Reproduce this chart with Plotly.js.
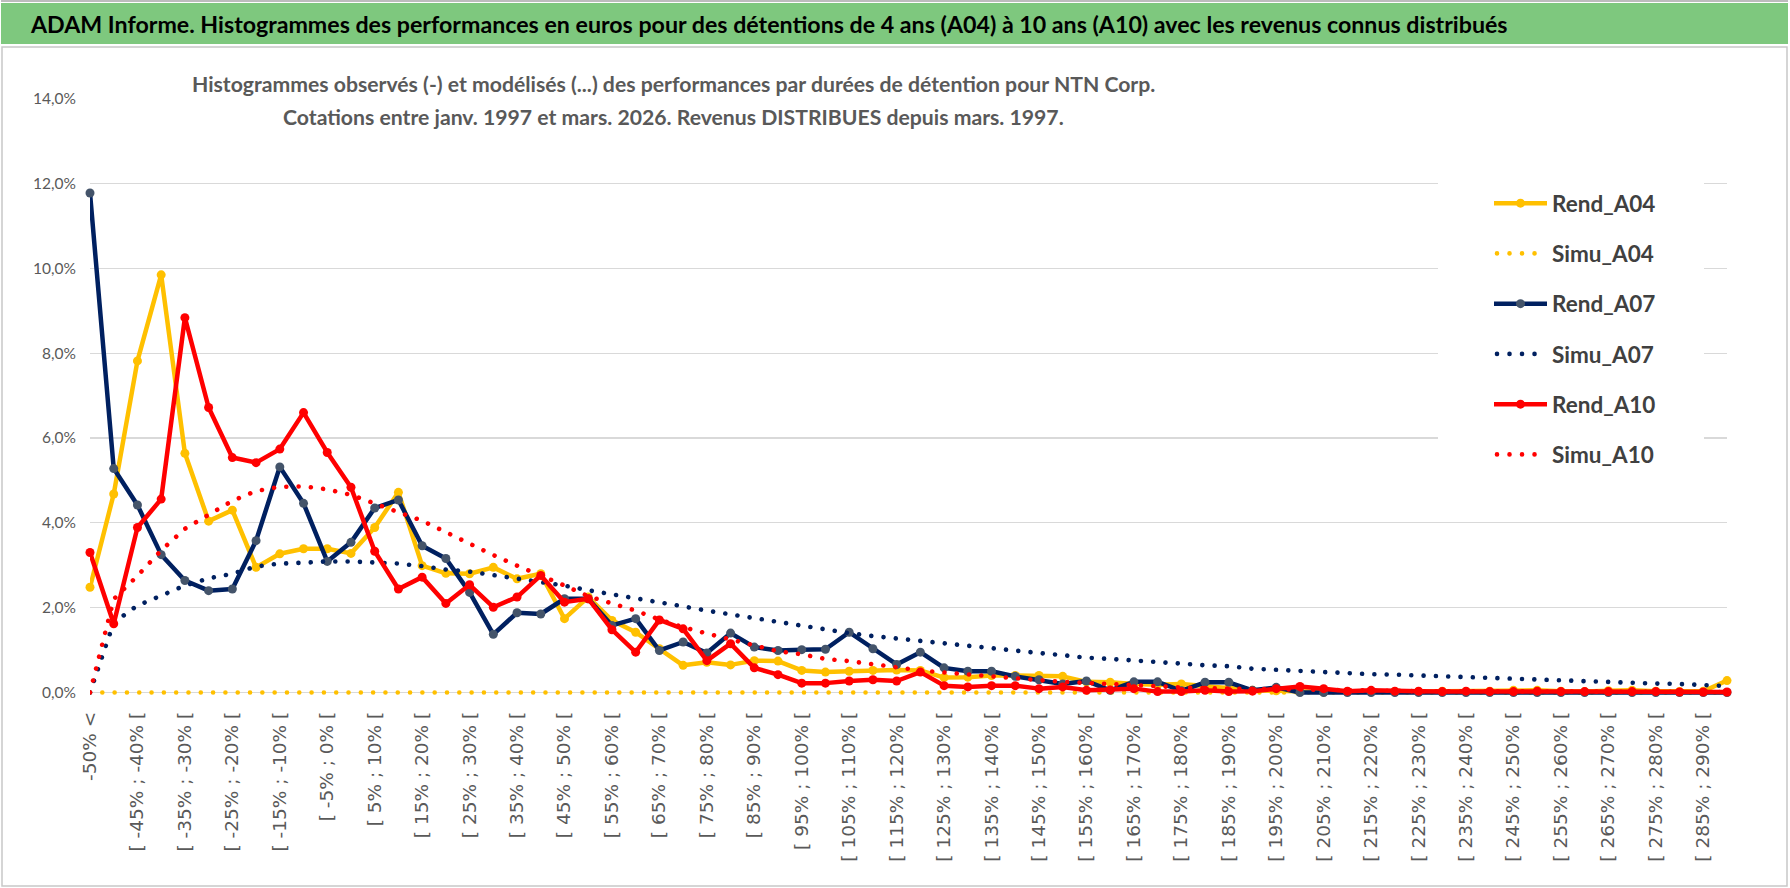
<!DOCTYPE html>
<html>
<head>
<meta charset="utf-8">
<script src="https://cdn.plot.ly/plotly-3.0.1.min.js"></script>
<style>
  html, body { margin:0; padding:0; background:#ffffff; }
  #chart { width:1790px; height:888px; }
</style>
</head>
<body>
<div id="chart"></div>
<script>
// ---------- DATA ----------
const categories = [
  "-50% <", "[ -50% ; -45% [", "[ -45% ; -40% [", "[ -40% ; -35% [", "[ -35% ; -30% [",
  "[ -30% ; -25% [", "[ -25% ; -20% [", "[ -20% ; -15% [", "[ -15% ; -10% [", "[ -10% ; -5% [",
  "[ -5% ; 0% [", "[ 0% ; 5% [", "[ 5% ; 10% [", "[ 10% ; 15% [", "[ 15% ; 20% [",
  "[ 20% ; 25% [", "[ 25% ; 30% [", "[ 30% ; 35% [", "[ 35% ; 40% [", "[ 40% ; 45% [",
  "[ 45% ; 50% [", "[ 50% ; 55% [", "[ 55% ; 60% [", "[ 60% ; 65% [", "[ 65% ; 70% [",
  "[ 70% ; 75% [", "[ 75% ; 80% [", "[ 80% ; 85% [", "[ 85% ; 90% [", "[ 90% ; 95% [",
  "[ 95% ; 100% [", "[ 100% ; 105% [", "[ 105% ; 110% [", "[ 110% ; 115% [", "[ 115% ; 120% [",
  "[ 120% ; 125% [", "[ 125% ; 130% [", "[ 130% ; 135% [", "[ 135% ; 140% [", "[ 140% ; 145% [",
  "[ 145% ; 150% [", "[ 150% ; 155% [", "[ 155% ; 160% [", "[ 160% ; 165% [", "[ 165% ; 170% [",
  "[ 170% ; 175% [", "[ 175% ; 180% [", "[ 180% ; 185% [", "[ 185% ; 190% [", "[ 190% ; 195% [",
  "[ 195% ; 200% [", "[ 200% ; 205% [", "[ 205% ; 210% [", "[ 210% ; 215% [", "[ 215% ; 220% [",
  "[ 220% ; 225% [", "[ 225% ; 230% [", "[ 230% ; 235% [", "[ 235% ; 240% [", "[ 240% ; 245% [",
  "[ 245% ; 250% [", "[ 250% ; 255% [", "[ 255% ; 260% [", "[ 260% ; 265% [", "[ 265% ; 270% [",
  "[ 270% ; 275% [", "[ 275% ; 280% [", "[ 280% ; 285% [", "[ 285% ; 290% [", "[ 290% ; 295% ["
];

// values in %
const rendA04 = [
  2.48, 4.68, 7.82, 9.85, 5.64, 4.04, 4.30, 2.95, 3.27, 3.39,
  3.39, 3.28, 3.89, 4.72, 2.99, 2.81, 2.80, 2.95, 2.68, 2.80,
  1.74, 2.25, 1.70, 1.42, 1.03, 0.64, 0.71, 0.65, 0.75, 0.74,
  0.52, 0.48, 0.50, 0.52, 0.53, 0.52, 0.35, 0.36, 0.40, 0.40,
  0.40, 0.38, 0.25, 0.24, 0.20, 0.18, 0.20, 0.15, 0.12, 0.05,
  0.04, 0.02, 0.01, 0.02, 0.03, 0.02, 0.02, 0.03, 0.02, 0.03,
  0.05, 0.05, 0.03, 0.02, 0.04, 0.05, 0.03, 0.02, 0.03, 0.28
];
const simuA04 = [
  0, 0, 0, 0, 0, 0, 0, 0, 0, 0,
  0, 0, 0, 0, 0, 0, 0, 0, 0, 0,
  0, 0, 0, 0, 0, 0, 0, 0, 0, 0,
  0, 0, 0, 0, 0, 0, 0, 0, 0, 0,
  0, 0, 0, 0, 0, 0, 0, 0, 0, 0,
  0, 0, 0, 0, 0, 0, 0, 0, 0, 0,
  0, 0, 0, 0, 0, 0, 0, 0, 0, 0
];
const rendA07 = [
  11.78, 5.28, 4.42, 3.25, 2.64, 2.40, 2.44, 3.58, 5.32, 4.46,
  3.09, 3.54, 4.35, 4.54, 3.46, 3.16, 2.36, 1.37, 1.88, 1.85,
  2.21, 2.21, 1.58, 1.74, 0.99, 1.19, 0.93, 1.40, 1.07, 0.99,
  1.01, 1.02, 1.42, 1.03, 0.66, 0.95, 0.58, 0.50, 0.50, 0.38,
  0.30, 0.20, 0.27, 0.05, 0.25, 0.25, 0.04, 0.24, 0.24, 0.05,
  0.12, 0, 0, 0, 0, 0, 0, 0, 0, 0,
  0, 0, 0, 0, 0, 0, 0, 0, 0, 0
];
const simuA07 = [
  0, 1.65, 2.05, 2.28, 2.52, 2.69, 2.80, 2.97, 3.04, 3.06,
  3.09, 3.09, 3.06, 3.04, 2.98, 2.90, 2.85, 2.77, 2.68, 2.60,
  2.52, 2.41, 2.32, 2.22, 2.12, 2.03, 1.93, 1.84, 1.75, 1.68,
  1.59, 1.48, 1.40, 1.33, 1.27, 1.21, 1.15, 1.10, 1.03, 0.98,
  0.93, 0.88, 0.82, 0.79, 0.76, 0.72, 0.68, 0.64, 0.62, 0.56,
  0.53, 0.52, 0.49, 0.46, 0.43, 0.42, 0.40, 0.37, 0.35, 0.33,
  0.32, 0.29, 0.28, 0.26, 0.24, 0.23, 0.21, 0.20, 0.18, 0.15
];
const rendA10 = [
  3.30, 1.62, 3.89, 4.56, 8.84, 6.72, 5.54, 5.42, 5.74, 6.60,
  5.66, 4.84, 3.33, 2.44, 2.72, 2.10, 2.54, 2.01, 2.25, 2.76,
  2.13, 2.21, 1.48, 0.95, 1.71, 1.50, 0.75, 1.15, 0.58, 0.42,
  0.22, 0.22, 0.27, 0.30, 0.27, 0.48, 0.16, 0.13, 0.16, 0.16,
  0.09, 0.13, 0.05, 0.06, 0.09, 0.02, 0.02, 0.05, 0.02, 0.03,
  0.09, 0.14, 0.09, 0.03, 0.05, 0.03, 0.03, 0.02, 0.03, 0.02,
  0.02, 0.03, 0.02, 0.02, 0.02, 0.02, 0.02, 0.01, 0.01, 0.01
];
const simuA10 = [
  0, 2.20, 2.75, 3.35, 3.86, 4.20, 4.52, 4.75, 4.85, 4.86,
  4.79, 4.66, 4.46, 4.27, 4.05, 3.78, 3.50, 3.24, 2.99, 2.76,
  2.52, 2.27, 2.09, 1.93, 1.72, 1.54, 1.39, 1.25, 1.11, 0.97,
  0.90, 0.79, 0.74, 0.66, 0.59, 0.52, 0.47, 0.42, 0.38, 0.33,
  0.29, 0.25, 0.22, 0.19, 0.16, 0.14, 0.12, 0.10, 0.09, 0.08,
  0.07, 0.06, 0.05, 0.05, 0.04, 0.04, 0.03, 0.03, 0.03, 0.02,
  0.02, 0.02, 0.02, 0.01, 0.01, 0.01, 0.01, 0.01, 0.01, 0.01
];
const yTickVals = [0, 2, 4, 6, 8, 10, 12, 14];

const mainTitle = "ADAM Informe. Histogrammes des performances en euros pour des détentions de 4 ans (A04) à 10 ans (A10) avec les revenus connus distribués";
const subTitle1 = "Histogrammes observés (-) et modélisés (...) des performances par durées de détention pour NTN Corp.";
const subTitle2 = "Cotations entre janv. 1997 et mars. 2026. Revenus DISTRIBUES depuis mars. 1997.";

// ---------- LAYOUT HELPERS ----------
const W = 1790, H = 888;
const M = {l: 90, r: 63, t: 98, b: 193, pad: 0};
const PW = W - M.l - M.r, PH = H - M.t - M.b;
const px = p => (p - M.l) / PW;
const py = p => (H - M.b - p) / PH;

const SANS = 'Lato, "DejaVu Sans Condensed", sans-serif';
const GRAY = '#595959';
const GRID = '#D9D9D9';

const pct = a => a.map(v => v / 100);

const YEL = '#FFC000', NAVY = '#002060', NAVYMK = '#44546A', RED = '#FF0000';

function rend(name, vals, color, mcolor) {
  return {
    type: 'scatter', mode: 'lines+markers', name: name, legendgroup: name,
    x: categories, y: pct(vals),
    line: {color: color, width: 4.5},
    marker: {color: mcolor, size: 9, line: {width: 0}},
    cliponaxis: false, hoverinfo: 'skip'
  };
}
function simu(name, vals, color) {
  return {
    type: 'scatter', mode: 'lines', name: name, legendgroup: name,
    x: categories, y: pct(vals),
    line: {color: color, width: 4.6, dash: 'dot'},
    cliponaxis: false, hoverinfo: 'skip'
  };
}

const traces = [
  rend('Rend_A04', rendA04, YEL, YEL),
  simu('Simu_A04', simuA04, YEL),
  rend('Rend_A07', rendA07, NAVY, NAVYMK),
  simu('Simu_A07', simuA07, NAVY),
  rend('Rend_A10', rendA10, RED, RED),
  simu('Simu_A10', simuA10, RED)
];

const gridIdx = categories.map((c, i) => i).filter(i => i % 4 === 0);

const layout = {
  width: W, height: H,
  margin: M,
  paper_bgcolor: '#ffffff', plot_bgcolor: '#ffffff',
  separators: ', ',
  showlegend: true,
  font: {family: SANS, color: GRAY, size: 16},
  xaxis: {
    type: 'category',
    range: [0, categories.length - 1],
    tickmode: 'array',
    tickvals: categories.filter((c, i) => i % 2 === 0),
    ticktext: categories.filter((c, i) => i % 2 === 0),
    tickangle: -90,
    tickfont: {family: '"DejaVu Sans", sans-serif', size: 18.5, color: GRAY},
    showgrid: false, zeroline: false, showline: false,
    ticks: '', ticklabelstandoff: 12,
    fixedrange: true
  },
  xaxis2: {
    overlaying: 'x', anchor: 'y', side: 'bottom',
    type: 'linear', range: [0, categories.length - 1],
    tickmode: 'array', tickvals: gridIdx,
    showticklabels: false,
    showgrid: true, gridcolor: GRID, gridwidth: 1.3,
    ticks: 'outside', ticklen: 6, tickcolor: GRID, tickwidth: 1.3,
    zeroline: false, showline: false, fixedrange: true
  },
  yaxis: {
    range: [-0.0006, 0.1402],
    tickmode: 'array', tickvals: yTickVals.map(v => v / 100),
    tickformat: '.1%',
    tickfont: {family: SANS, size: 15.5, color: GRAY},
    showgrid: true, gridcolor: GRID, gridwidth: 1.3,
    zeroline: false, showline: false, ticks: '',
    ticklabelstandoff: 13, fixedrange: true
  },
  legend: {
    x: px(1489), xanchor: 'left',
    y: py(182), yanchor: 'top',
    bgcolor: 'rgba(0,0,0,0)', borderwidth: 0,
    itemwidth: 53, tracegroupgap: 18,
    font: {family: SANS, size: 22.5, color: '#404040', weight: 'bold'}
  },
  shapes: [
    // green header bar
    {type: 'rect', xref: 'paper', yref: 'paper', x0: px(1), x1: px(1788), y0: py(44), y1: py(3),
     fillcolor: '#7EC87E', line: {width: 0}, layer: 'above'},
    // header top border
    {type: 'line', xref: 'paper', yref: 'paper', x0: px(1), x1: px(1788), y0: py(1), y1: py(1),
     line: {color: '#A6A6A6', width: 1.5}, layer: 'above'},
    // chart frame
    {type: 'rect', xref: 'paper', yref: 'paper', x0: px(2), x1: px(1787), y0: py(886), y1: py(47),
     fillcolor: 'rgba(0,0,0,0)', line: {color: '#C8C8C8', width: 1.5}, layer: 'below'},
    // white box behind chart title
    {type: 'rect', xref: 'paper', yref: 'paper', x0: px(171), x1: px(1176), y0: py(136), y1: py(94),
     fillcolor: '#ffffff', line: {width: 0}, layer: 'above'},
    // white box behind legend
    {type: 'rect', xref: 'paper', yref: 'paper', x0: px(1438), x1: px(1704), y0: py(478), y1: py(175),
     fillcolor: '#ffffff', line: {width: 0}, layer: 'above'}
  ],
  annotations: [
    {text: mainTitle, xref: 'paper', yref: 'paper', x: px(28), y: py(24), xanchor: 'left', yanchor: 'middle',
     showarrow: false, font: {family: SANS, size: 23.2, color: '#000000', weight: 'bold'}},
    {text: subTitle1, xref: 'paper', yref: 'paper', x: px(673), y: py(84), xanchor: 'center', yanchor: 'middle',
     showarrow: false, font: {family: SANS, size: 21.2, color: GRAY, weight: 'bold'}},
    {text: subTitle2, xref: 'paper', yref: 'paper', x: px(673), y: py(117), xanchor: 'center', yanchor: 'middle',
     showarrow: false, font: {family: SANS, size: 21.2, color: GRAY, weight: 'bold'}}
  ]
};

Plotly.newPlot('chart', traces, layout, {displayModeBar: false, staticPlot: true}).then(gd => {
  const simuSet = new Set([1, 3, 5]);
  gd.querySelectorAll('.scatterlayer .trace').forEach((g, i) => {
    g.querySelectorAll('path.js-line').forEach(p => {
      p.style.strokeLinejoin = 'round';
      if (simuSet.has(i)) {
        p.style.strokeLinecap = 'round';
        p.style.strokeDasharray = '0.01px,12.3px';
      }
    });
  });
  gd.querySelectorAll('.legend .traces').forEach((g, i) => {
    g.querySelectorAll('path.js-line').forEach(p => {
      if (simuSet.has(i)) {
        p.style.strokeLinecap = 'round';
        p.style.strokeDasharray = '0.01px,12.5px';
        p.style.strokeDashoffset = '-3px';
      }
    });
  });
});
</script>
</body>
</html>
